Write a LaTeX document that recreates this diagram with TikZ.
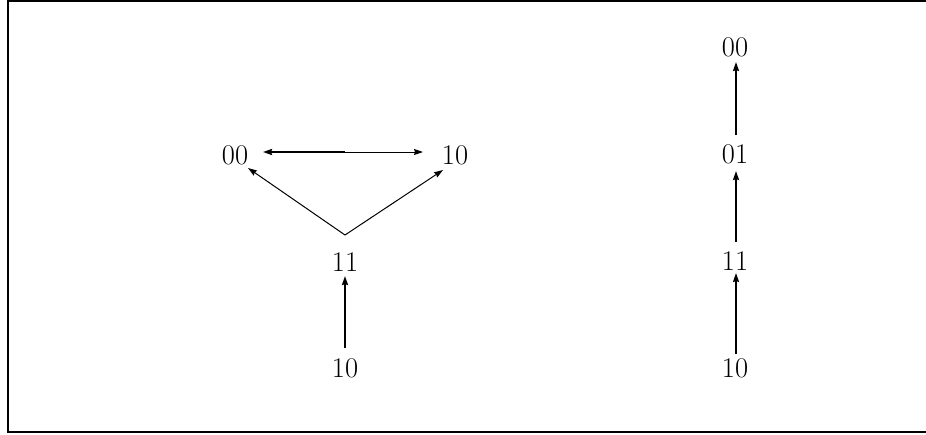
\documentclass[tikz,border=0pt]{standalone}
\usetikzlibrary{arrows.meta}
\begin{document}
\begin{tikzpicture}[x=1pt,y=-1pt,
  lbl/.style={inner sep=0pt,font=\fontsize{28.5}{33}\selectfont},
  tip/.style={-{Stealth[length=9pt,width=6pt,inset=1pt]}},
  thin edge/.style={tip,line width=1pt},
  mid edge/.style={tip,line width=1.7pt},
  thick edge/.style={tip,line width=2.2pt}]
\useasboundingbox (0,0) rectangle (926,434);
% open frame
\draw[line width=2pt] (926,1) -- (7.5,1) -- (7.5,431.5) -- (926,431.5);

% left graph
\node[lbl] (a00) at (235,155) {00};
\node[lbl] (a10) at (455,155) {10};
\node[lbl] (a11) at (345,262) {11};
\node[lbl] (b10) at (345,368) {10};
\coordinate (mid) at (345,152);
\coordinate (apex) at (345,235);
\coordinate (tl) at (263,152);
\coordinate (tr) at (423,152);
\coordinate (vl) at (248,168);
\coordinate (vr) at (443,170);
\draw[thick edge] (mid) -- (tl);
\draw[thin edge] (mid) -- (tr);
\draw[thin edge] (apex) -- (vl);
\draw[thin edge] (apex) -- (vr);
\draw[thick edge] (345,348) coordinate (s1) -- (345,276) coordinate (e1);

% right chain
\node[lbl] (c00) at (735,47) {00};
\node[lbl] (c01) at (735,154) {01};
\node[lbl] (c11) at (735,261) {11};
\node[lbl] (c10) at (735,368) {10};
\draw[mid edge] (736,135) coordinate (s2) -- (736,62) coordinate (e2);
\draw[mid edge] (736,242) coordinate (s3) -- (736,171) coordinate (e3);
\draw[mid edge] (736,354) coordinate (s4) -- (736,273) coordinate (e4);
\end{tikzpicture}
\end{document}
